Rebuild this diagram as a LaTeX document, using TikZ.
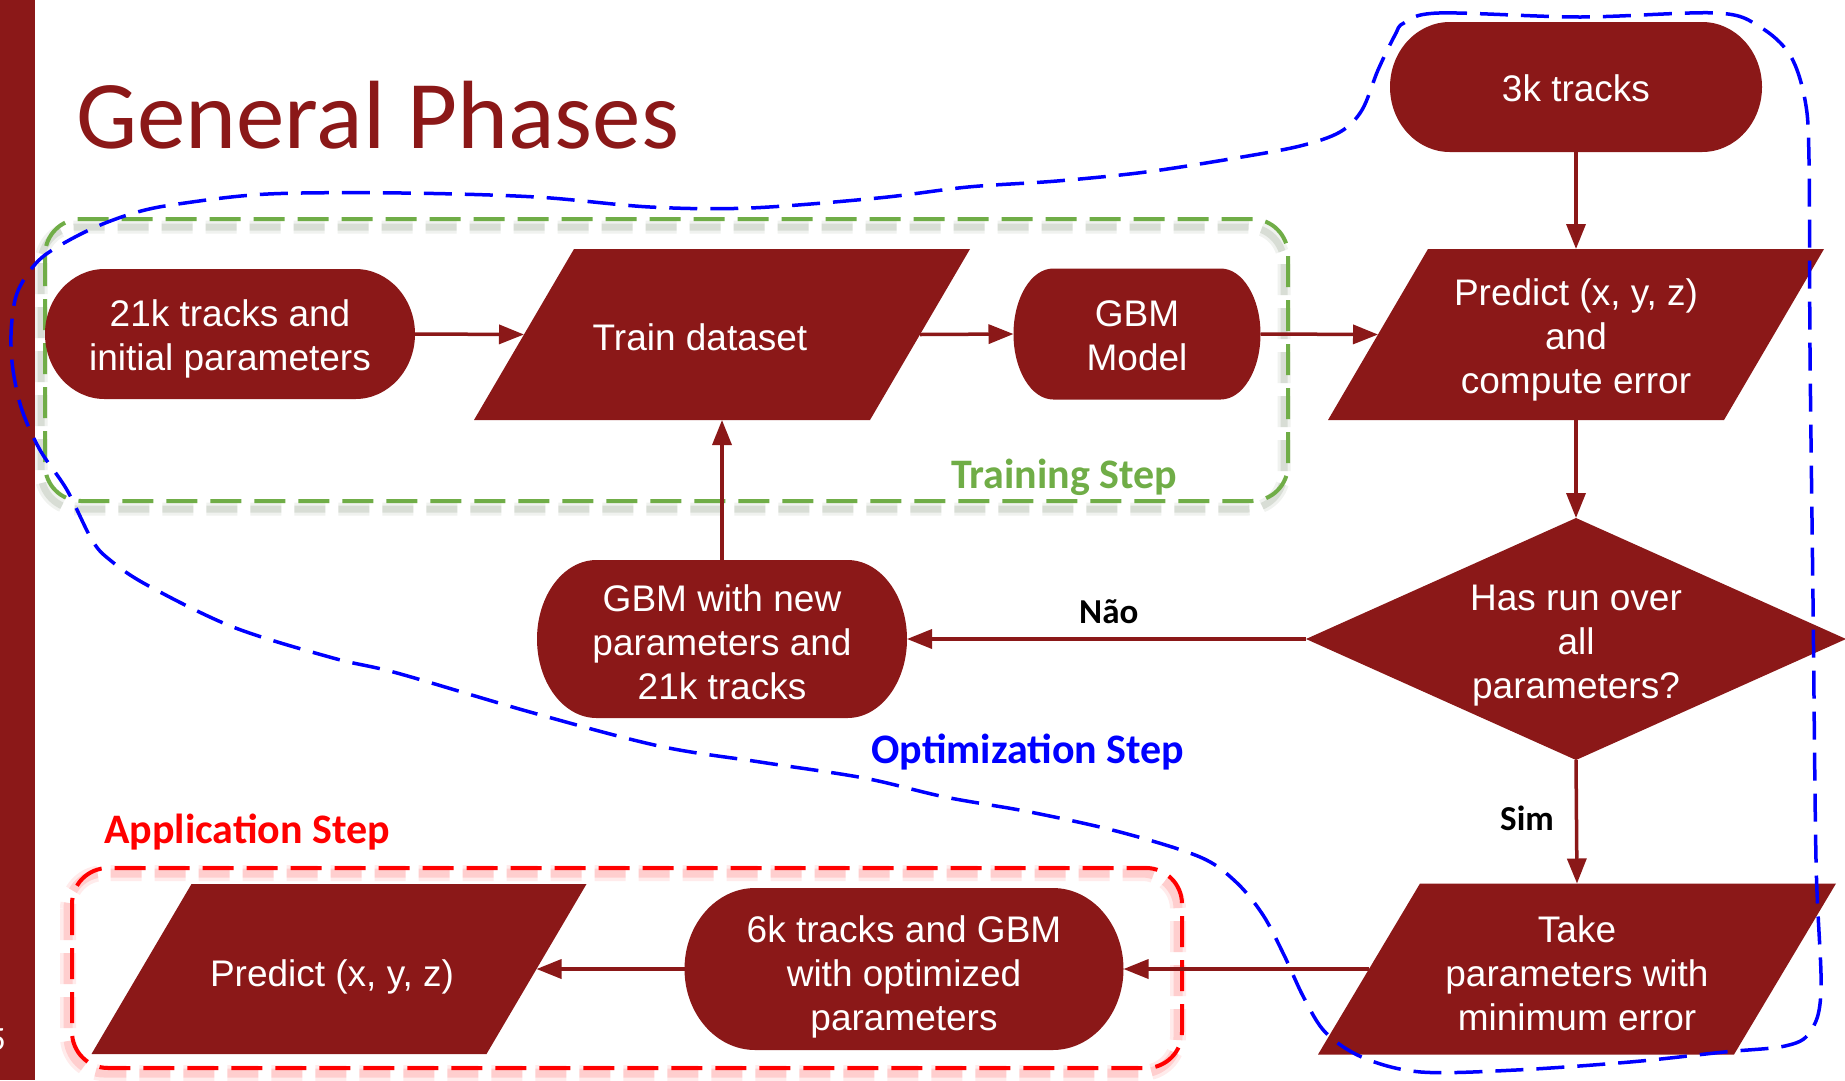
\documentclass[tikz,border=0pt]{standalone}
\usepackage{fontspec}
\usetikzlibrary{arrows.meta,shapes.geometric,calc}
\newfontfamily\boxfont{Liberation Sans}
\newfontfamily\calfont{Carlito}
\definecolor{boxred}{HTML}{8B1818}
\definecolor{stepgreen}{HTML}{70AD47}
\definecolor{stepblue}{HTML}{0000FF}
\definecolor{stepred}{HTML}{FF0000}
\definecolor{shadowgray}{RGB}{110,130,100}
\pgfdeclarelayer{bg}
\pgfsetlayers{bg,main}

% parallelogram behind a rectangle node: #1 node, #2 half of the slant
\newcommand\parafill[2]{%
  \fill[boxred] ([xshift=#2]#1.north west) -- ([xshift=#2]#1.north east)
    -- ([xshift=-#2]#1.south east) -- ([xshift=-#2]#1.south west) -- cycle;}

% centred lines of box text, lowered a little without changing the box size
\newcommand\boxlines[2][6pt]{%
  \raisebox{-#1}[\height][\depth]{\begin{tabular}{@{}c@{}}#2\end{tabular}}}

\tikzset{
  boxtext/.style={text=white, font=\boxfont\fontsize{37}{44}\selectfont,
    inner sep=0pt, outer sep=0pt},
  term/.style={boxtext, rectangle,
    path picture={
      \fill[boxred] let \p1=(path picture bounding box.south west),
        \p2=(path picture bounding box.north east),
        \n1={0.161*(\x2-\x1)}, \n2={(\y2-\y1)/2} in
        (\x1+\n1,\y2) -- (\x2-\n1,\y2)
        arc[start angle=90, end angle=-90, x radius=\n1*1pt, y radius=\n2*1pt]
        -- (\x1+\n1,\y1)
        arc[start angle=270, end angle=90, x radius=\n1*1pt, y radius=\n2*1pt]
        -- cycle;}},
  para/.style={boxtext, rectangle},
  decision/.style={boxtext, diamond, fill=boxred, shape aspect=2.23},
  arr/.style={draw=boxred, line width=3.5pt, -{Triangle[length=25pt,width=19pt]}},
  steplabel/.style={font=\calfont\bfseries\fontsize{42}{50}\selectfont,
    anchor=base west, inner sep=0pt},
  branch/.style={font=\calfont\bfseries\fontsize{35}{42}\selectfont,
    anchor=base west, inner sep=0pt, text=black},
  zonebox/.style={line width=4pt, dash pattern=on 31pt off 13pt, rounded corners=36pt},
}

\begin{document}
\begin{tikzpicture}[x=1pt, y=-1pt]
\useasboundingbox (0,0) rectangle (1845,1080);

% title
\node[font=\calfont\fontsize{97}{116}\selectfont, text=boxred, anchor=base west,
  inner sep=0pt] (title) at (76,148) {General Phases};

% flowchart nodes
\node[term, minimum width=370pt, minimum height=130pt] (s21) at (230,334)
  {\boxlines{21k tracks and\\initial parameters}};
\node[para, minimum width=396pt, minimum height=171pt] (train) at (722,334.5)
  {\boxlines[7pt]{\hspace*{-44pt}Train dataset}};
\node[term, minimum width=247pt, minimum height=131pt] (gbm) at (1137,334)
  {\boxlines{GBM\\Model}};
\node[term, minimum width=372pt, minimum height=130pt] (s3k) at (1576,87)
  {\boxlines[5.5pt]{3k tracks}};
\node[para, minimum width=396pt, minimum height=171pt] (pred) at (1576,334.5)
  {\boxlines[6pt]{Predict (x, y, z)\\and\\compute error}};
\node[decision, minimum width=540pt, minimum height=242pt] (dec) at (1576,639)
  {\boxlines[6.5pt]{Has run over\\all\\parameters?}};
\node[term, minimum width=370pt, minimum height=158pt] (snew) at (722,639)
  {\boxlines[8pt]{GBM with new\\parameters and\\21k tracks}};
\node[para, minimum width=416pt, minimum height=171pt] (take) at (1577,969)
  {\boxlines[8.5pt]{Take\\parameters with\\minimum error}};
\node[term, minimum width=439pt, minimum height=162pt] (s6k) at (904,969)
  {\boxlines[8.5pt]{6k tracks and GBM\\with optimized\\parameters}};
\node[para, minimum width=395pt, minimum height=170pt] (papp) at (339,969)
  {\boxlines[8.5pt]{\hspace*{-14pt}Predict (x, y, z)}};

\begin{pgfonlayer}{bg}
  % page, side bar
  \fill[white] (0,0) rectangle (1845,1080);
  \fill[boxred] (0,0) rectangle (35,1080);
  % step zones with their soft shadows
  \draw[zonebox, draw=shadowgray, opacity=0.10, line width=13pt, shift={(-4,8)}]
    (45,219) rectangle (1288,501);
  \draw[zonebox, draw=shadowgray, opacity=0.18, line width=7pt, shift={(-4,8)}]
    (45,219) rectangle (1288,501);
  \draw[zonebox, draw=stepgreen] (45,219) rectangle (1288,501);
  \draw[zonebox, draw=stepred, opacity=0.08, line width=16pt, shift={(-4,5)}]
    (72,868) rectangle (1182,1068);
  \draw[zonebox, draw=stepred, opacity=0.12, line width=9pt, shift={(-4,5)}]
    (72,868) rectangle (1182,1068);
  \draw[zonebox, draw=stepred] (72,868) rectangle (1182,1068);
  % parallelogram bodies
  \parafill{train}{50pt}
  \parafill{pred}{50pt}
  \parafill{take}{51pt}
  \parafill{papp}{50pt}
\end{pgfonlayer}

% page number on the side bar
\node[font=\calfont\fontsize{34}{40}\selectfont, text=white, anchor=base east,
  inner sep=0pt] (pagenum) at (6,1050) {5};

% connectors
\draw[arr] (s21.east) -- (train.west);
\draw[arr] (train.east) -- (gbm.west);
\draw[arr] (gbm.east) -- (pred.west);
\draw[arr] (s3k.south) -- (pred.north);
\draw[arr] (pred.south) -- (dec.north);
\draw[arr] (dec.west) -- (snew.east);
\draw[arr] (snew.north) -- (train.south);
\draw[arr] (dec.south) -- (take.north);
\draw[arr] (take.west) -- (s6k.east);
\draw[arr] (s6k.west) -- (papp.east);

% branch labels
\node[branch] (no) at (1079,623) {Não};
\node[branch] (yes) at (1500,830) {Sim};

% step labels
\node[steplabel, text=stepgreen] (ltrain) at (951,488) {Training Step};
\node[steplabel, text=stepblue] (lopt) at (871,763) {Optimization Step};
\node[steplabel, text=stepred] (lapp) at (104,843) {Application Step};

% optimization zone outline
\draw[stepblue, line width=3.5pt, dash pattern=on 28pt off 13pt]
  plot[smooth cycle, tension=0.55] coordinates {
    (1404,23) (1439,13) (1580,17) (1717,13) (1760,27) (1790,55) (1805,100)
    (1809,160) (1810,350) (1813,600) (1816,860) (1821,990) (1810,1032)
    (1785,1046) (1724,1052) (1630,1062) (1516,1070) (1421,1072) (1364,1058)
    (1326,1033) (1304,998) (1284,955) (1263,915) (1236,882) (1200,857)
    (1120,832) (1030,812) (945,797) (864,778) (760,762) (659,746) (530,712)
    (397,673) (333,658) (233,627) (147,585) (110,560) (92,540) (67,490)
    (40,450) (22,410) (13,370) (11,335) (15,300) (25,278) (45,255) (89,230)
    (134,213) (178,204) (268,194) (402,193) (536,197) (650,207) (750,208)
    (878,198) (968,187) (1057,181) (1146,172) (1236,158) (1300,146)
    (1340,132) (1362,110) (1378,70) (1395,35)};
\end{tikzpicture}
\end{document}
